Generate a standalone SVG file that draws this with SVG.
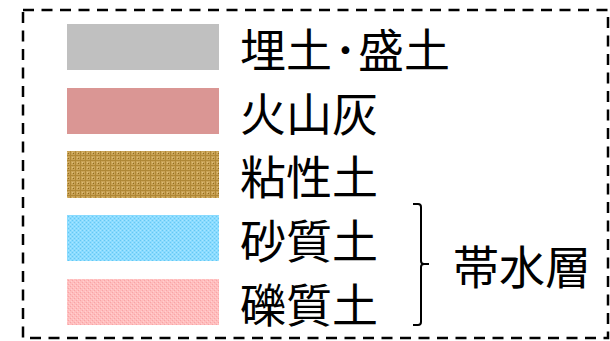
<svg xmlns="http://www.w3.org/2000/svg" width="610" height="341" viewBox="0 0 610 341">
<style>
.lbl{font-family:"Noto Sans CJK JP","Noto Sans CJK SC",sans-serif;font-size:46px;fill:#000;dominant-baseline:central}
.frame{fill:none;stroke:#000;stroke-width:2.5;stroke-dasharray:11 7.5}
.brace{fill:none;stroke:#000;stroke-width:2}
</style>
<defs>
<pattern id="pClay" width="5" height="5" patternUnits="userSpaceOnUse">
<rect width="5" height="5" fill="#C9A256"/>
<rect x="0" y="0" width="5" height="1" fill="#B08836"/>
<rect x="0" y="0" width="1" height="5" fill="#B08836"/>
<rect x="3" y="3" width="1" height="1" fill="#8F6C20"/>
<rect x="2" y="2" width="1" height="1" fill="#DCBE78"/>
</pattern>
<pattern id="pSand" width="4" height="4" patternUnits="userSpaceOnUse">
<rect width="4" height="4" fill="#8ADBFF"/>
<rect x="0" y="0" width="1" height="1" fill="#66C8F2"/>
<rect x="2" y="2" width="1" height="1" fill="#66C8F2"/>
<rect x="2" y="0" width="1" height="1" fill="#A8E6FF"/>
<rect x="0" y="2" width="1" height="1" fill="#A8E6FF"/>
</pattern>
<pattern id="pGravel" width="4" height="4" patternUnits="userSpaceOnUse">
<rect width="4" height="4" fill="#FFBDBD"/>
<rect x="0" y="0" width="1" height="1" fill="#F7A4A6"/>
<rect x="2" y="2" width="1" height="1" fill="#F7A4A6"/>
<rect x="1" y="3" width="1" height="1" fill="#FFD0D0"/>
<rect x="3" y="1" width="1" height="1" fill="#FFD0D0"/>
</pattern>
</defs>
<rect class="frame" x="23" y="10" width="585" height="328"/>
<g id="fill">
<rect x="67" y="24" width="152" height="46" fill="#C0C0C0"/>
<text class="lbl" x="240" y="47">埋土<tspan x="334">･</tspan><tspan x="358">盛土</tspan></text>
</g>
<g id="volcanic-ash">
<rect x="67" y="88" width="152" height="46" fill="#DA9694"/>
<text class="lbl" x="240" y="111">火山灰</text>
</g>
<g id="clay">
<rect x="67" y="151" width="152" height="47" fill="url(#pClay)"/>
<text class="lbl" x="240" y="174">粘性土</text>
</g>
<g id="sand">
<rect x="67" y="215" width="152" height="46" fill="url(#pSand)"/>
<text class="lbl" x="240" y="238">砂質土</text>
</g>
<g id="gravel">
<rect x="67" y="279" width="152" height="46" fill="url(#pGravel)"/>
<text class="lbl" x="240" y="302">礫質土</text>
</g>
<g id="connectors">
<path class="brace" d="M413 204 H418 Q421 204 421 207 V261 Q421 264 424 264 H429 M424 264 Q421 264 421 267 V322 Q421 325 418 325 H413"/>
</g>
<g id="aquifer">
<text class="lbl" x="453" y="264">帯水層</text>
</g>
</svg>
